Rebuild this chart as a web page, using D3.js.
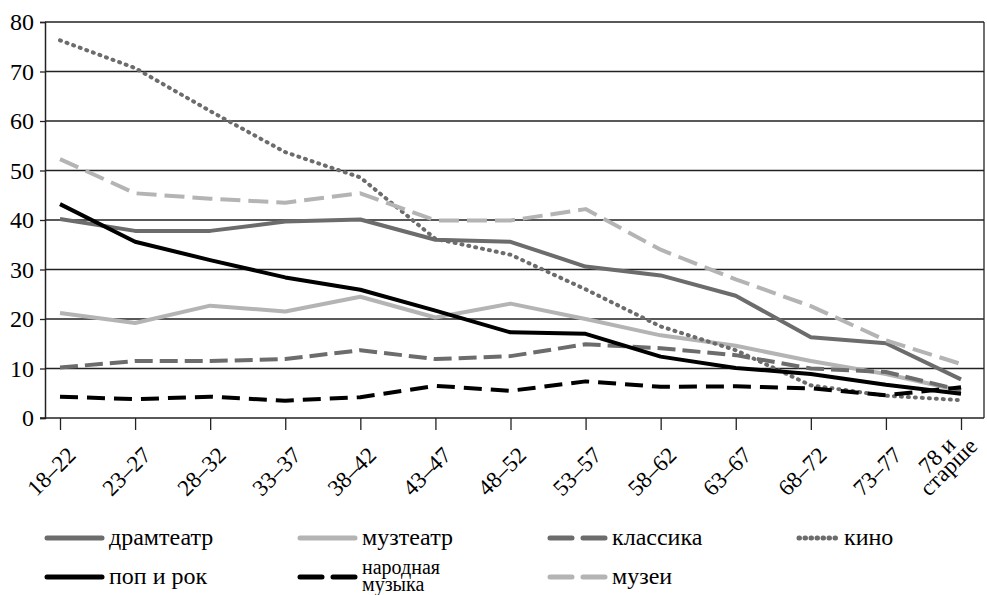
<!DOCTYPE html>
<html>
<head>
<meta charset="utf-8">
<script src="https://cdn.jsdelivr.net/npm/d3@7"></script>
<style>
  body { margin: 0; background: #fff; }
</style>
</head>
<body>
<div id="chart"></div>
<script>
// age groups (last one is split in two lines)
var ages = ["18–22", "23–27", "28–32", "33–37", "38–42", "43–47", "48–52", "53–57", "58–62", "63–67", "68–72", "73–77", "78 и старше"];
var yTicks = [0, 10, 20, 30, 40, 50, 60, 70, 80];

var dramteatr = [40.2, 37.8, 37.8, 39.7, 40.1, 36.0, 35.6, 30.6, 28.8, 24.7, 16.3, 15.1, 7.8];
var muzteatr  = [21.2, 19.2, 22.7, 21.5, 24.5, 20.3, 23.1, 20.0, 16.7, 14.6, 11.5, 8.9, 5.5];
var klassika  = [10.2, 11.5, 11.5, 11.9, 13.7, 11.9, 12.5, 14.9, 14.1, 12.7, 10.0, 9.3, 5.6];
var kino      = [76.3, 70.7, 62.0, 53.7, 48.6, 36.2, 33.0, 26.0, 18.5, 13.7, 6.6, 4.5, 3.6];
var popRok    = [43.2, 35.6, 31.9, 28.4, 25.9, 21.7, 17.3, 17.0, 12.4, 10.1, 8.9, 6.7, 4.9];
var narodnaya = [4.3, 3.8, 4.3, 3.5, 4.2, 6.5, 5.5, 7.4, 6.3, 6.4, 6.0, 4.6, 6.2];
var muzei     = [52.3, 45.4, 44.3, 43.5, 45.4, 39.9, 39.9, 42.2, 34.0, 28.0, 22.6, 15.7, 10.9];

var series = [
    {name: ["драмтеатр"], values: dramteatr, color: "#6c6c6c", dash: null},
    {name: ["музтеатр"], values: muzteatr, color: "#b4b4b4", dash: null},
    {name: ["классика"], values: klassika, color: "#6c6c6c", dash: "18,7"},
    {name: ["кино"], values: kino, color: "#6c6c6c", dash: "1,6", cap: "round"},
    {name: ["поп и рок"], values: popRok, color: "#000", dash: null},
    {name: ["народная", "музыка"], values: narodnaya, color: "#000", dash: "18,9"},
    {name: ["музеи"], values: muzei, color: "#b4b4b4", dash: "20,8"}
];

var W = 987, H = 595;
var plotL = 45, plotR = 984, plotT = 22, plotB = 418;

var svg = d3.select("#chart").append("svg")
    .attr("width", W).attr("height", H);

var x = d3.scalePoint().domain(ages).range([60, 961]);
var y = d3.scaleLinear().domain([0, 80]).range([plotB, plotT]);

// grid lines
svg.append("g")
    .selectAll("line")
    .data(yTicks.filter(function (d) { return d > 0; }))
    .join("line")
    .attr("x1", plotL).attr("x2", plotR)
    .attr("y1", function (d) { return y(d); })
    .attr("y2", function (d) { return y(d); })
    .attr("stroke", "#222").attr("stroke-width", 1.3);

// right border
svg.append("line")
    .attr("x1", plotR).attr("x2", plotR).attr("y1", plotT).attr("y2", plotB)
    .attr("stroke", "#222").attr("stroke-width", 1.3);

// y axis
var yAxis = svg.append("g")
    .attr("transform", "translate(" + plotL + ",0)")
    .call(d3.axisLeft(y).tickValues(yTicks).tickSize(5).tickPadding(6));
yAxis.attr("font-family", null).attr("font-size", null);
yAxis.select(".domain").attr("stroke", "#222").attr("stroke-width", 1.5);
yAxis.selectAll(".tick line").attr("stroke", "#222").attr("stroke-width", 1.3);
yAxis.selectAll("text")
    .attr("font-family", "Liberation Serif")
    .attr("font-size", 24).attr("fill", "#000");

// x axis
svg.append("line")
    .attr("x1", plotL - 5).attr("x2", plotR).attr("y1", plotB).attr("y2", plotB)
    .attr("stroke", "#222").attr("stroke-width", 1.5);
var xAxis = svg.append("g")
    .attr("transform", "translate(0," + plotB + ")")
    .call(d3.axisBottom(x).tickSize(12));
xAxis.attr("font-family", null).attr("font-size", null);
xAxis.select(".domain").remove();
xAxis.selectAll(".tick line").attr("stroke", "#222").attr("stroke-width", 1.3);
xAxis.selectAll(".tick text").each(function (d) {
    var t = d3.select(this);
    var two = d === "78 и старше";
    t.text(null)
        .attr("y", 0).attr("dy", null)
        .attr("fill", "#000")
        .attr("font-family", "Liberation Serif")
        .attr("text-anchor", two ? "middle" : "end")
        .attr("font-size", 23)
        .attr("transform", two ? "translate(-25,37) rotate(-45)" : "translate(11,33) rotate(-45)");
    var parts = two ? ["78 и", "старше"] : [d];
    parts.forEach(function (p, i) {
        t.append("tspan").attr("x", 0).attr("dy", i === 0 ? "0.35em" : "0.72em").text(p);
    });
});

// lines
var line = d3.line()
    .x(function (d, i) { return x(ages[i]); })
    .y(function (d) { return y(d); });

svg.append("g")
    .selectAll("path")
    .data(series)
    .join("path")
    .attr("d", function (s) { return line(s.values); })
    .attr("fill", "none")
    .attr("stroke", function (s) { return s.color; })
    .attr("stroke-width", 4)
    .attr("stroke-linecap", function (s) { return s.cap || "butt"; })
    .attr("stroke-linejoin", "round")
    .attr("stroke-dasharray", function (s) { return s.dash; });

// legend
var legX = [45, 298, 548, 797];
var legY = [538, 577];
var leg = svg.append("g").selectAll("g")
    .data(series)
    .join("g")
    .attr("transform", function (s, i) {
        return "translate(" + legX[i % 4] + "," + legY[Math.floor(i / 4)] + ")";
    });

leg.append("line")
    .attr("x1", 2).attr("x2", function (s) { return s.cap ? 41 : 57; })
    .attr("y1", 0).attr("y2", 0)
    .attr("stroke", function (s) { return s.color; })
    .attr("stroke-width", 5)
    .attr("stroke-linecap", function (s) { return s.cap || "round"; })
    .attr("stroke-dasharray", function (s) { return s.cap ? "0.5,5.5" : (s.dash ? "22,11" : null); });

leg.append("text")
    .attr("y", function (s) { return s.name.length > 1 ? -3 : 7; })
    .attr("font-family", "Liberation Serif")
    .attr("font-size", function (s) { return s.name.length > 1 ? 20 : 24; })
    .attr("fill", "#000")
    .each(function (s) {
        var t = d3.select(this);
        s.name.forEach(function (p, i) {
            t.append("tspan")
                .attr("x", s.cap ? 47 : 64)
                .attr("dy", i === 0 ? 0 : 17)
                .text(p);
        });
    });
</script>
</body>
</html>
